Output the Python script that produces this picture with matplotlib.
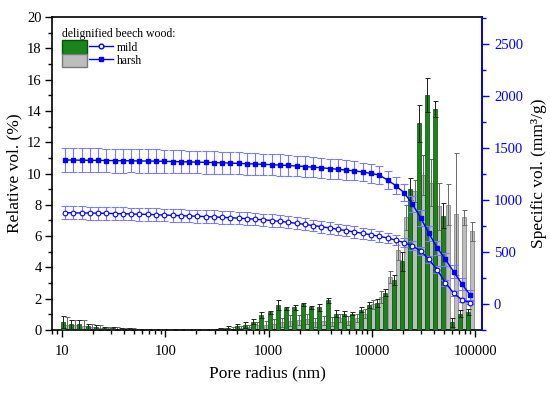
import numpy as np
import matplotlib
matplotlib.use("Agg")
import matplotlib.pyplot as plt
from matplotlib.patches import Patch
from matplotlib.lines import Line2D
from matplotlib.legend_handler import HandlerTuple
from matplotlib.ticker import MultipleLocator, LogLocator, FixedLocator, NullFormatter

plt.rcParams['font.family'] = ['Liberation Serif', 'DejaVu Serif']

# pore radius bins (nm), log spaced like the porosimeter output
radius = 10 ** (1.029 + 0.0801 * np.arange(50))

# relative volume (%) - mild
mild_rel = [0.53, 0.36, 0.36, 0.25, 0.20, 0.15, 0.12, 0.10, 0.08, 0.07,
            0.06, 0.05, 0.05, 0.04, 0.03, 0.04, 0.04, 0.05, 0.06, 0.10,
            0.15, 0.25, 0.35, 0.55, 0.95, 1.15, 1.60, 1.40, 1.45, 1.65,
            1.45, 1.45, 1.90, 1.06, 1.06, 1.06, 1.30, 1.60, 1.75, 2.40,
            3.20, 4.40, 9.00, 13.2, 15.0, 14.1, 7.30, 0.50, 1.06, 1.17]
mild_rel_err = [0.40, 0.30, 0.30, 0.15, 0.10, 0.08, 0.05, 0.05, 0.04, 0.03,
                0.03, 0.03, 0.03, 0.02, 0.02, 0.02, 0.02, 0.03, 0.03, 0.05,
                0.10, 0.15, 0.20, 0.15, 0.20, 0.10, 0.30, 0.10, 0.15, 0.10,
                0.10, 0.20, 0.15, 0.20, 0.15, 0.10, 0.15, 0.20, 0.25, 0.20,
                0.30, 0.60, 0.70, 1.20, 1.10, 0.50, 0.80, 0.30, 0.20, 0.20]

# relative volume (%) - harsh
harsh_rel = [0.35, 0.30, 0.28, 0.20, 0.15, 0.12, 0.10, 0.08, 0.07, 0.06,
             0.05, 0.05, 0.04, 0.04, 0.03, 0.03, 0.04, 0.04, 0.05, 0.07,
             0.10, 0.15, 0.20, 0.30, 0.35, 0.40, 0.50, 0.60, 0.65, 0.70,
             0.50, 0.60, 0.55, 0.75, 0.60, 0.75, 1.06, 1.65, 2.10, 3.40,
             5.10, 7.20, 8.90, 9.90, 9.40, 7.90, 8.00, 7.40, 7.20, 6.30]
harsh_rel_err = [0.50, 0.35, 0.35, 0.20, 0.15, 0.10, 0.07, 0.05, 0.05, 0.04,
                 0.04, 0.03, 0.03, 0.03, 0.03, 0.02, 0.03, 0.03, 0.04, 0.05,
                 0.08, 0.10, 0.15, 0.20, 0.25, 0.30, 0.30, 0.35, 0.30, 0.30,
                 0.30, 0.30, 0.30, 0.25, 0.30, 0.25, 0.30, 0.30, 0.40, 0.40,
                 0.60, 0.80, 0.70, 1.30, 1.50, 1.50, 1.30, 3.90, 0.50, 0.60]

# cumulative specific volume (mm3/g)
mild_spec = [878, 877, 876, 875, 874, 872, 870, 868, 866, 864,
             862, 859, 856, 853, 850, 847, 844, 841, 838, 834,
             830, 826, 821, 816, 810, 803, 795, 786, 776, 766,
             755, 744, 732, 719, 706, 693, 680, 666, 652, 635,
             615, 590, 560, 510, 430, 330, 205, 105, 40, 15]
mild_spec_err = [62, 62, 62, 62, 62, 62, 62, 62, 62, 62,
                 62, 62, 62, 62, 62, 62, 62, 62, 62, 62,
                 60, 60, 60, 60, 60, 60, 58, 58, 58, 58,
                 56, 56, 56, 55, 55, 55, 54, 54, 52, 50,
                 48, 46, 44, 40, 36, 32, 28, 24, 20, 18]
harsh_spec = [1385, 1384, 1383, 1382, 1381, 1380, 1379, 1378, 1377, 1376,
              1375, 1374, 1372, 1370, 1368, 1366, 1364, 1362, 1360, 1358,
              1355, 1352, 1349, 1346, 1343, 1340, 1336, 1332, 1327, 1322,
              1316, 1310, 1303, 1296, 1288, 1280, 1270, 1256, 1240, 1192,
              1138, 1070, 962, 830, 680, 541, 429, 311, 192, 87]
harsh_spec_err = [115, 115, 115, 115, 115, 115, 115, 115, 112, 112,
                  112, 112, 110, 110, 110, 110, 108, 108, 108, 108,
                  106, 106, 105, 105, 104, 104, 102, 102, 100, 100,
                  98, 98, 96, 96, 94, 92, 90, 88, 86, 84,
                  82, 80, 78, 76, 72, 68, 64, 60, 55, 50]

blue = '#0000ff'
eblue = '#7a7aff'
green = '#17851a'
grey = '#bdbdbd'

fig = plt.figure(figsize=(5.5, 3.93), dpi=100)
ax = fig.add_axes([0.0945, 0.160, 0.782, 0.797])

lg = np.log10(radius)
g_left = 10 ** (lg - 0.040)
g_w = 10 ** (lg - 0.001) - g_left
h_left = 10 ** (lg + 0.001)
h_w = 10 ** (lg + 0.040) - h_left

ax.bar(h_left, harsh_rel, width=h_w, align='edge', color=grey, edgecolor='#7a7a7a',
       linewidth=0.5, yerr=harsh_rel_err, ecolor='#6a6a6a', capsize=1.8,
       error_kw=dict(elinewidth=0.7, capthick=0.7), zorder=2)
ax.bar(g_left, mild_rel, width=g_w, align='edge', color=green, edgecolor='#0b4d0b',
       linewidth=0.5, yerr=mild_rel_err, ecolor='#222222', capsize=1.8,
       error_kw=dict(elinewidth=0.7, capthick=0.7), zorder=3)

ax.set_xscale('log')
ax.set_xlim(8, 1.17e5)
ax.set_ylim(0, 20)
ax.xaxis.set_major_locator(FixedLocator([10, 100, 1000, 10000, 100000]))
ax.set_xticklabels(['10', '100', '1000', '10000', '100000'])
ax.xaxis.set_minor_locator(LogLocator(base=10, subs=np.arange(2, 10)))
ax.xaxis.set_minor_formatter(NullFormatter())
ax.yaxis.set_major_locator(MultipleLocator(2))
ax.yaxis.set_minor_locator(MultipleLocator(1))
ax.tick_params(which='both', direction='out', labelsize=10.5, width=1)
ax.tick_params(which='major', length=5)
ax.tick_params(which='minor', length=3)
ax.tick_params(axis='y', which='major', pad=2.5)
ax.tick_params(axis='x', which='major', pad=6)
for s in ax.spines.values():
    s.set_linewidth(1.2)
ax.set_xlabel('Pore radius (nm)', fontsize=12.5, labelpad=5)
ax.set_ylabel('Relative vol. (%)', fontsize=12.5, labelpad=3)

ax2 = ax.twinx()
ax2.errorbar(radius, mild_spec, yerr=mild_spec_err, color=blue, lw=1.0,
             marker='o', ms=3.4, mfc='white', mec=blue, mew=0.8,
             ecolor=eblue, elinewidth=0.8, capsize=3, capthick=0.8, zorder=4)
ax2.errorbar(radius, harsh_spec, yerr=harsh_spec_err, color=blue, lw=1.0,
             marker='s', ms=3.0, mfc=blue, mec=blue,
             ecolor=eblue, elinewidth=0.8, capsize=3, capthick=0.8, zorder=4)
ax2.set_ylim(-250, 2760)
ax2.yaxis.set_major_locator(MultipleLocator(500))
ax2.yaxis.set_minor_locator(MultipleLocator(250))
ax2.tick_params(which='both', direction='out', colors=blue, labelsize=10.5, width=1)
ax2.tick_params(which='major', length=5)
ax2.tick_params(which='minor', length=3)
ax2.spines['right'].set_color(blue)
ax2.spines['right'].set_linewidth(1.2)
ax2.spines['left'].set_visible(False)
ax2.spines['top'].set_visible(False)
ax2.spines['bottom'].set_visible(False)
ax2.set_ylabel('Specific vol. (mm³/g)', fontsize=12.5, labelpad=6)

h_mild = (Patch(facecolor=green, edgecolor='#0b4d0b'),
          Line2D([], [], color=blue, lw=1, marker='o', ms=3.4, mfc='white', mec=blue))
h_harsh = (Patch(facecolor=grey, edgecolor='#7a7a7a'),
           Line2D([], [], color=blue, lw=1, marker='s', ms=3.0, mfc=blue, mec=blue))
leg = ax2.legend([h_mild, h_harsh], ['mild', 'harsh'],
                 handler_map={tuple: HandlerTuple(ndivide=None, pad=0.15)},
                 title='delignified beech wood:', title_fontsize=8.5, fontsize=8.5,
                 loc='upper left', bbox_to_anchor=(0.005, 0.99), frameon=False,
                 handlelength=4.3, handleheight=1.35, handletextpad=0.3,
                 labelspacing=0.0, borderpad=0.2)
leg._legend_box.align = 'left'

fig.savefig('out.png', dpi=100)
